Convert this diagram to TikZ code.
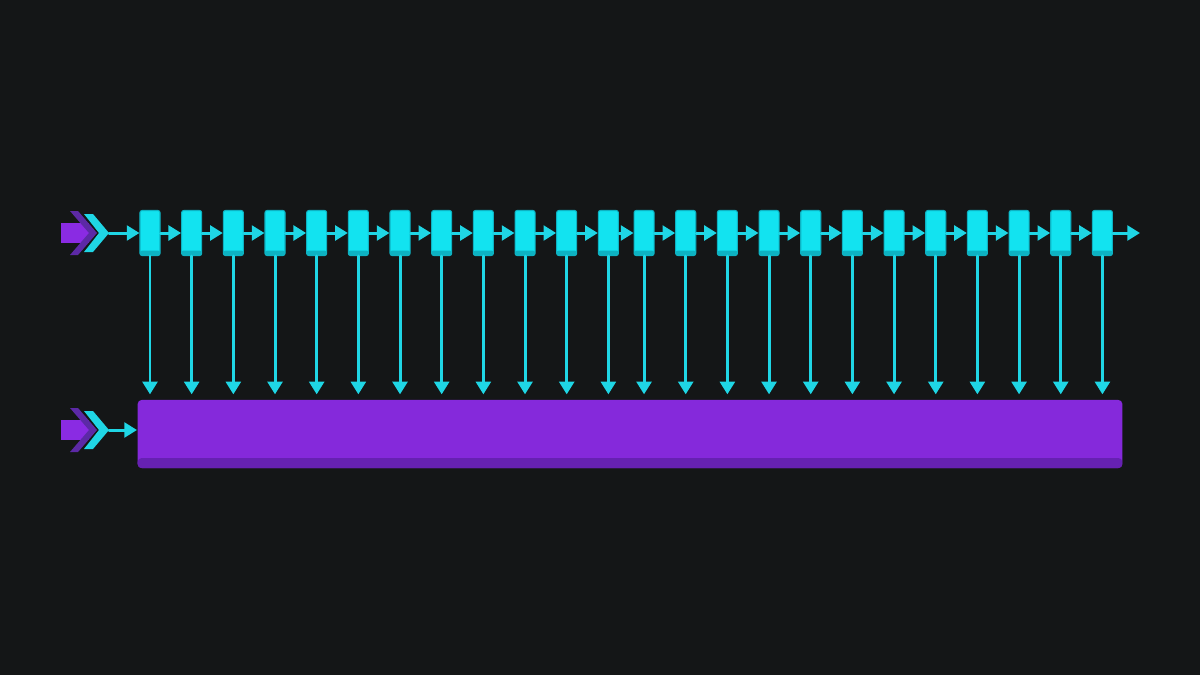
\documentclass[tikz,border=0pt]{standalone}
\usepackage{tikz}
\usetikzlibrary{arrows.meta}
\definecolor{ttvvww}{rgb}{0.078,0.086,0.090}
\definecolor{qqddee}{rgb}{0.12,0.84,0.90}
\definecolor{qqeeff}{rgb}{0.07,0.89,0.94}
\definecolor{qqbbcc}{rgb}{0.05,0.70,0.76}
\definecolor{ddqqff}{rgb}{0.52,0.16,0.86}
\definecolor{bbqqdd}{rgb}{0.40,0.13,0.70}
\definecolor{ccqqee}{rgb}{0.54,0.17,0.89}
\definecolor{ggqqbb}{rgb}{0.36,0.16,0.65}
\tikzset{
  cell/.style={draw=qqbbcc,line width=0.3pt,fill=qqeeff,rounded corners=0.6pt,
    minimum width=0.2cm,minimum height=0.45cm,inner sep=0pt,
    path picture={\fill[qqbbcc] (path picture bounding box.south west) rectangle ([yshift=0.05cm]path picture bounding box.south east);}},
  bus/.style={fill=ddqqff,rounded corners=1.1pt,minimum width=9.84cm,minimum height=0.68cm,inner sep=0pt,
    path picture={\fill[bbqqdd] (path picture bounding box.south west) rectangle ([yshift=0.1cm]path picture bounding box.south east);}},
  flow/.style={->,line width=0.85pt,color=qqddee}
}

\begin{document}
\begin{tikzpicture}[line cap=round,line join=round,>={Triangle[length=3.6pt,width=4.2pt]},x=0.01cm,y=-0.01cm]
  \fill[ttvvww] (0,0) rectangle (1200,675);
  % entry marks
  \foreach \yy/\nm in {233/inA,430/inB}{
    \fill[ccqqee] (61,\yy-10) rectangle (89,\yy+10);
    \fill[ggqqbb] (70,\yy-22) -- (78,\yy-22) -- (97,\yy) -- (78,\yy+22) -- (70,\yy+22) -- (89,\yy) -- cycle;
    \fill[qqddee] (84,\yy-19) -- (93,\yy-19) -- (109,\yy) -- (93,\yy+19) -- (84,\yy+19) -- (99,\yy) -- cycle;
    \coordinate (\nm) at (109,\yy);
  }
  % chain of cells
  \foreach \i in {1,...,24}{
    \pgfmathsetmacro\xx{150+41.67*(\i-1)-6*(\i>12)}
    \node[cell] (c\i) at (\xx,233) {};
  }
  \node[bus] (bus) at (630,434) {};
  \coordinate (out) at (1140,233);
  \draw[flow] (inA) -- (c1);
  \foreach \i [count=\j from 2] in {1,...,23}
    \draw[flow] (c\i) -- (c\j);
  \draw[flow] (c24) -- (out);
  \foreach \i in {1,...,24}
    \draw[flow,shorten >=1.4pt] (c\i.south) -- (c\i.south |- bus.north);
  \draw[flow] (inB) -- (inB -| bus.west);
\end{tikzpicture}
\end{document}
